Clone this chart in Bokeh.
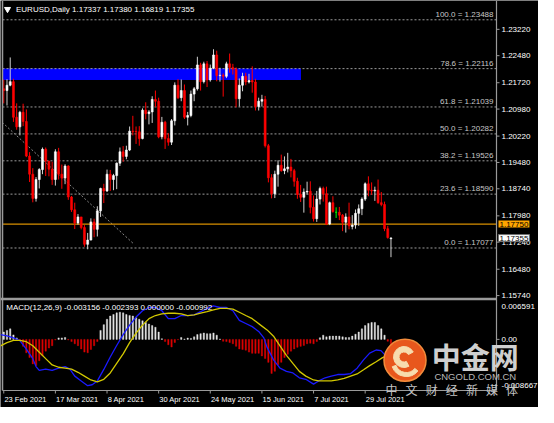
import numpy as np
from bokeh.plotting import figure
from bokeh.models import Range1d, Label, ColumnDataSource
from bokeh.core.properties import value
from bokeh.embed import file_html
from bokeh.resources import INLINE

# ---------------- data ----------------
symbol = "EURUSD,Daily"
open_p = [1.2155, 1.2150, 1.2165, 1.2175, 1.2075, 1.2048, 1.2089, 1.2063, 1.1966, 1.1915,
          1.1847, 1.1900, 1.1928, 1.1985, 1.1952, 1.1929, 1.1900, 1.1978, 1.1915, 1.1904,
          1.1938, 1.1851, 1.1815, 1.1778, 1.1795, 1.1765, 1.1718, 1.1730, 1.1781, 1.1760,
          1.1812, 1.1875, 1.1868, 1.1915, 1.1900, 1.1911, 1.1946, 1.1978, 1.1965, 1.1983,
          1.2036, 1.2035, 1.2034, 1.2015, 1.2095, 1.2085, 1.2090, 1.2125, 1.2120, 1.2020,
          1.2061, 1.2015, 1.2005, 1.2065, 1.2165, 1.2130, 1.2150, 1.2075, 1.2080, 1.2140,
          1.2155, 1.2222, 1.2175, 1.2225, 1.2180, 1.2213, 1.2250, 1.2192, 1.2193, 1.2190,
          1.2225, 1.2215, 1.2210, 1.2127, 1.2165, 1.2190, 1.2174, 1.2178, 1.2174, 1.2105,
          1.2120, 1.2125, 1.1995, 1.1905, 1.1860, 1.1915, 1.1940, 1.1925, 1.1930, 1.1935,
          1.1925, 1.1895, 1.1858, 1.1850, 1.1865, 1.1867, 1.1822, 1.1790, 1.1845, 1.1875,
          1.1860, 1.1775, 1.1835, 1.1808, 1.1808, 1.1800, 1.1780, 1.1795, 1.1768, 1.1772,
          1.1805, 1.1818, 1.1845, 1.1888, 1.1870, 1.1868, 1.1870, 1.1835, 1.1830, 1.1762,
          1.17337]
high_p = [1.2181, 1.2182, 1.2243, 1.2183, 1.2114, 1.2093, 1.2113, 1.2097, 1.1977, 1.1932,
          1.1907, 1.1932, 1.1990, 1.1990, 1.1952, 1.1950, 1.1985, 1.1989, 1.1942, 1.1943,
          1.1940, 1.1854, 1.1835, 1.1803, 1.1795, 1.1772, 1.1750, 1.1791, 1.1790, 1.1825,
          1.1877, 1.1888, 1.1928, 1.1927, 1.1916, 1.1948, 1.1990, 1.1994, 1.1995, 1.2049,
          1.2079, 1.2049, 1.2050, 1.2100, 1.2117, 1.2095, 1.2134, 1.2150, 1.2130, 1.2076,
          1.2065, 1.2030, 1.2070, 1.2173, 1.2182, 1.2181, 1.2167, 1.2090, 1.2150, 1.2160,
          1.2245, 1.2228, 1.2231, 1.2233, 1.2223, 1.2266, 1.2262, 1.2214, 1.2198, 1.2231,
          1.2254, 1.2225, 1.2215, 1.2184, 1.2200, 1.2200, 1.2197, 1.2218, 1.2183, 1.2130,
          1.2138, 1.2135, 1.2000, 1.1915, 1.1925, 1.1954, 1.1970, 1.1965, 1.1975, 1.1958,
          1.1930, 1.1905, 1.1885, 1.1875, 1.1894, 1.1895, 1.1855, 1.1868, 1.1880, 1.1880,
          1.1880, 1.1838, 1.1853, 1.1822, 1.1823, 1.1803, 1.1805, 1.1835, 1.1800, 1.1816,
          1.1830, 1.1850, 1.1892, 1.1909, 1.1892, 1.1880, 1.1900, 1.1865, 1.1838, 1.1770,
          1.17380]
low_p = [1.2114, 1.2108, 1.2162, 1.2062, 1.2040, 1.2024, 1.2050, 1.1963, 1.1893, 1.1836,
         1.1838, 1.1875, 1.1915, 1.1910, 1.1909, 1.1885, 1.1883, 1.1900, 1.1874, 1.1887,
         1.1843, 1.1809, 1.1761, 1.1773, 1.1760, 1.1711, 1.1704, 1.1729, 1.1738, 1.1740,
         1.1795, 1.1834, 1.1865, 1.1868, 1.1870, 1.1873, 1.1938, 1.1950, 1.1957, 1.1980,
         1.2024, 1.2000, 1.1995, 1.2013, 1.2069, 1.2055, 1.2059, 1.2104, 1.2016, 1.2013,
         1.1986, 1.1995, 1.1997, 1.2052, 1.2126, 1.2120, 1.2070, 1.2052, 1.2075, 1.2120,
         1.2150, 1.2150, 1.2170, 1.2160, 1.2175, 1.2210, 1.2176, 1.2175, 1.2133, 1.2185,
         1.2200, 1.2195, 1.2103, 1.2105, 1.2148, 1.2165, 1.2170, 1.2144, 1.2094, 1.2094,
         1.2105, 1.1990, 1.1892, 1.1847, 1.1848, 1.1880, 1.1922, 1.1915, 1.1920, 1.1906,
         1.1880, 1.1846, 1.1837, 1.1807, 1.1858, 1.1805, 1.1782, 1.1781, 1.1830, 1.1838,
         1.1772, 1.1772, 1.1807, 1.1792, 1.1786, 1.1755, 1.1751, 1.1760, 1.1760, 1.1762,
         1.1770, 1.1800, 1.1840, 1.1853, 1.1857, 1.1840, 1.1832, 1.1825, 1.1755, 1.1734,
         1.16819]
close_p = [1.2150, 1.2165, 1.2175, 1.2075, 1.2048, 1.2089, 1.2063, 1.1966, 1.1915, 1.1847,
           1.1900, 1.1928, 1.1985, 1.1952, 1.1929, 1.1900, 1.1978, 1.1915, 1.1904, 1.1938,
           1.1851, 1.1815, 1.1778, 1.1795, 1.1765, 1.1718, 1.1730, 1.1781, 1.1760, 1.1812,
           1.1875, 1.1868, 1.1915, 1.1900, 1.1911, 1.1946, 1.1978, 1.1965, 1.1983, 1.2036,
           1.2035, 1.2034, 1.2015, 1.2095, 1.2085, 1.2090, 1.2125, 1.2120, 1.2020, 1.2061,
           1.2015, 1.2005, 1.2065, 1.2165, 1.2130, 1.2150, 1.2075, 1.2080, 1.2140, 1.2155,
           1.2222, 1.2175, 1.2225, 1.2180, 1.2213, 1.2250, 1.2192, 1.2193, 1.2190, 1.2225,
           1.2215, 1.2210, 1.2127, 1.2165, 1.2190, 1.2174, 1.2178, 1.2174, 1.2105, 1.2120,
           1.2125, 1.1995, 1.1905, 1.1860, 1.1915, 1.1940, 1.1925, 1.1930, 1.1935, 1.1925,
           1.1895, 1.1858, 1.1850, 1.1865, 1.1867, 1.1822, 1.1790, 1.1845, 1.1875, 1.1860,
           1.1775, 1.1835, 1.1810, 1.1808, 1.1800, 1.1780, 1.1795, 1.1770, 1.1772, 1.1805,
           1.1818, 1.1845, 1.1888, 1.1870, 1.1868, 1.1870, 1.1835, 1.1830, 1.1762, 1.1737,
           1.17355]

date_labels = ["23 Feb 2021", "17 Mar 2021", "8 Apr 2021", "30 Apr 2021",
               "24 May 2021", "15 Jun 2021", "7 Jul 2021", "29 Jul 2021"]
date_label_bars = [0, 16, 32, 48, 64, 80, 96, 112]

price_ticks = [1.15740, 1.16480, 1.17240, 1.17980, 1.18740, 1.19480,
               1.20220, 1.20980, 1.21720, 1.22480, 1.23220]

fib_pct = ["100.0", "78.6", "61.8", "50.0", "38.2", "23.6", "0.0"]
fib_price = [1.23488, 1.22116, 1.21039, 1.20282, 1.19526, 1.18590, 1.17077]

hline_price = 1.17750
zone_top, zone_bottom, zone_end_bar = 1.2212, 1.2180, 92.1
trend_bars = [-0.5, 40.3]
trend_prices = [1.20609, 1.17190]

macd_title = "MACD(12,26,9) -0.003156 -0.002393 0.000000 -0.000992"
hist = [0.00125, 0.001526, 0.001786, 0.000763, 0.00025, -0.000211, -0.001185, -0.002272,
        -0.003084, -0.004155, -0.004431, -0.00362, -0.002808, -0.001997, -0.001461, -0.001071,
        -0.0001, 0.00025, 0.00025, 0.000325, -0.0001, -0.000373, -0.000747, -0.001071,
        -0.001623, -0.002159, -0.002272, -0.001721, -0.001071, -0.000373, 0.001526, 0.0025,
        0.003409, 0.003961, 0.00422, 0.004496, 0.00461, 0.004496, 0.00422, 0.004058,
        0.003961, 0.003685, 0.003409, 0.003149, 0.002873, 0.002597, 0.002337, 0.002061,
        0.00125, 0.0001, -0.000373, -0.000909, -0.001299, -0.000536, -0.00005, 0.000325,
        0.00005, 0.000227, 0.000162, 0.000438, 0.000812, 0.000974, 0.001088, 0.000974,
        0.000974, 0.001088, 0.000714, 0.00005, -0.000325, -0.000373, -0.000536, -0.000747,
        -0.001185, -0.001623, -0.001721, -0.001834, -0.002159, -0.00237, -0.00237, -0.00237,
        -0.002808, -0.003246, -0.003896, -0.005779, -0.005405, -0.004318, -0.003896, -0.003084,
        -0.002532, -0.001997, -0.001623, -0.001347, -0.001185, -0.001023, -0.000747, -0.000649,
        -0.000747, -0.000373, 0.000276, 0.000714, 0.000438, 0.000552, 0.000552, 0.000552,
        0.000552, 0.000438, 0.000325, 0.000325, 0.000552, 0.000877, 0.00125, 0.001786,
        0.002337, 0.002711, 0.002873, 0.002873, 0.002337, 0.001786, 0.000714, -0.000325,
        -0.000992]
macd_bars = [-1, 1, 3, 5, 7, 9, 10, 11, 13, 15, 17, 19, 20.5, 22, 24, 26, 27.4, 29, 31, 33,
             35, 37, 39, 41, 43, 45, 47, 49, 51, 53, 55, 57, 59, 61, 63, 65, 67, 69, 71, 73,
             75, 77, 79, 80.6, 81.6, 83.6, 85.6, 87.6, 89.6, 91.6, 93.6, 96, 97.6, 99.6,
             101.5, 103.5, 105.5, 107.5, 109.5, 111.5, 113.4, 115.4, 116.9, 117.9, 119, 120]
macd_main = [0.000795, 0.000584, 0.00026, -0.000227, -0.001639, -0.003263, -0.00461, -0.005259,
             -0.005048, -0.005259, -0.004886, -0.00461, -0.005048, -0.006233, -0.007045,
             -0.007856, -0.007694, -0.007045, -0.005097, -0.002987, -0.001039, 0.000795,
             0.002419, 0.003782, 0.004853, 0.005405, 0.005405, 0.004853, 0.003506, 0.003506,
             0.004042, 0.004042, 0.004155, 0.004691, 0.005243, 0.005665, 0.005405, 0.005405,
             0.004853, 0.00323, 0.002695, 0.002159, 0.001347, 0.00026, -0.001363, -0.003474,
             -0.004886, -0.005421, -0.005697, -0.006509, -0.006769, -0.00758, -0.007045,
             -0.006509, -0.006233, -0.005957, -0.005957, -0.005795, -0.004886, -0.003474,
             -0.002337, -0.001802, -0.001899, -0.0025, -0.0029, -0.003156]
signal_bars = [-1, 1, 3, 5, 7, 9, 11, 13, 15, 17, 19, 21, 23, 25, 27, 29, 31, 33, 35, 37,
               39, 41, 43, 45, 47, 49, 51, 53, 55, 57, 59, 61, 63, 65, 67, 69, 71, 73, 75, 77,
               79.6, 81.6, 83.6, 85.6, 87.6, 89.6, 91.6, 93.6, 96, 97.6, 99.6, 101.5, 103.5,
               105.5, 107.5, 109.5, 111.5, 113.4, 115.4, 117.4, 119, 120]
macd_signal = [-0.001088, -0.000552, -0.000179, -0.000179, -0.00039, -0.001088, -0.002175,
               -0.003263, -0.004334, -0.004724, -0.004886, -0.005048, -0.005584, -0.006233,
               -0.006882, -0.007207, -0.006769, -0.005697, -0.004074, -0.002451, -0.000552,
               0.001071, 0.002419, 0.003506, 0.004042, 0.004318, 0.004431, 0.004431, 0.004318,
               0.004042, 0.004155, 0.004431, 0.004691, 0.005016, 0.005243, 0.005243, 0.005129,
               0.004594, 0.004042, 0.003506, 0.002419, 0.001607, 0.000536, -0.001088,
               -0.002711, -0.004074, -0.005421, -0.006233, -0.006882, -0.007045, -0.007045,
               -0.007045, -0.006882, -0.006606, -0.006233, -0.00586, -0.005146, -0.004448,
               -0.003798, -0.0031, -0.0027, -0.002393]
macd_max, macd_min = 0.006591, -0.008667

# ---------------- layout (pixels inside the figure) ----------------
W, H = 538, 407
PLOT_L, PLOT_R = 2, 496          # chart area left edge / right axis line
MAIN_T, MAIN_B = 0, 297          # main price panel
MACD_T, MACD_B = 300, 390        # MACD panel
BAR_L, BAR_R = -0.39, 152.7      # bar index shown at PLOT_L / PLOT_R
PRICE_T, PRICE_B = 1.2403, 1.15686

kx = (PLOT_R - PLOT_L) / (BAR_R - BAR_L)
x_start = BAR_L - PLOT_L / kx
x_end = x_start + W / kx
pp = (PRICE_T - PRICE_B) / (MAIN_B - MAIN_T)
mp = (macd_max - macd_min) / (MACD_B - MACD_T)


def bx(px):
    return x_start + px / kx


def py(px):
    return PRICE_T - (px - MAIN_T) * pp


def my(px):
    return macd_max - (px - MACD_T) * mp


FONT = "Liberation Sans"
BG = "#000000"
FRAME_C = "#9a9a9a"
TXT = "#ffffff"

p = figure(width=W, height=H, x_range=Range1d(x_start, x_end),
           y_range=Range1d(py(H), py(0)), x_axis_location=None, y_axis_location=None,
           output_backend="svg", toolbar_location=None, min_border=0,
           min_border_left=0, min_border_right=0, min_border_top=0, min_border_bottom=0,
           background_fill_color=BG, border_fill_color=BG, outline_line_color=None)
p.grid.visible = False
p.extra_y_ranges = {"macd": Range1d(my(H), my(0))}

o = np.array(open_p); h = np.array(high_p); l = np.array(low_p); c = np.array(close_p)
bars = np.arange(len(c))
body_col = np.where(c > o, "#ffffff", np.where(c < o, "#ff0000", "#00ff00")).tolist()
wick_col = np.where(c > o, "#d0d0d0", np.where(c < o, "#ff0000", "#00ff00")).tolist()
src = ColumnDataSource(dict(x=bars, top=np.maximum(o, c), bottom=np.minimum(o, c),
                            high=h, low=l, body=body_col, wick=wick_col))

# ---- main panel ----
p.quad(left=[BAR_L], right=[zone_end_bar], top=[zone_top], bottom=[zone_bottom],
       fill_color="#0000ff", line_color=None)

n_f = len(fib_price)
p.segment(x0=[BAR_L] * n_f, y0=fib_price, x1=[BAR_R] * n_f, y1=fib_price,
          line_color="#9c9c9c", line_dash="2 2", line_width=1)
p.text(x=[bx(493)] * n_f, y=[v + 1 * pp for v in fib_price],
       text=[f"{a} = {b:.5f}" for a, b in zip(fib_pct, fib_price)],
       text_align="right", text_baseline="bottom", text_font=value(FONT),
       text_font_size="8px", text_color="#c8c8c8")

p.line(trend_bars, trend_prices, line_color="#8a8a8a", line_dash="2 2", line_width=1)
p.segment(x0=[BAR_L], y0=[hline_price], x1=[BAR_R], y1=[hline_price],
          line_color="#d88f00", line_width=1.2)

p.segment(x0="x", y0="low", x1="x", y1="high", line_color="wick", line_width=1, source=src)
p.vbar(x="x", width=0.6, top="top", bottom="bottom", fill_color="body",
       line_color="body", line_width=0.6, source=src)

# title
p.scatter([bx(7)], [py(8.7)], marker="inverted_triangle", size=6, color=TXT)
p.text(x=[bx(15.5)], y=[py(8.7)],
       text=[f"{symbol}  {o[-1]:.5f} {h[-1]:.5f} {l[-1]:.5f} {c[-1]:.5f}"],
       text_align="left", text_baseline="middle", text_font=value(FONT),
       text_font_size="8px", text_color=TXT)

# ---- frame lines ----
p.segment(x0=[bx(PLOT_L)], y0=[py(0)], x1=[bx(PLOT_L)], y1=[py(MACD_B)],
          line_color=FRAME_C, line_width=1.5)
p.segment(x0=[BAR_R], y0=[py(0)], x1=[BAR_R], y1=[py(MACD_B)],
          line_color=FRAME_C, line_width=1.2)
p.segment(x0=[bx(0)], y0=[py(MAIN_B + 1.5)], x1=[BAR_R], y1=[py(MAIN_B + 1.5)],
          line_color=FRAME_C, line_width=2.5)
p.segment(x0=[bx(PLOT_L)], y0=[py(MACD_B)], x1=[BAR_R], y1=[py(MACD_B)],
          line_color=FRAME_C, line_width=1.2)

# ---- right price axis ----
n_t = len(price_ticks)
p.segment(x0=[BAR_R] * n_t, y0=price_ticks, x1=[bx(PLOT_R + 3)] * n_t, y1=price_ticks,
          line_color=FRAME_C, line_width=1)
p.text(x=[bx(PLOT_R + 5)] * n_t, y=price_ticks, text=[f"{t:.5f}" for t in price_ticks],
       text_align="left", text_baseline="middle", text_font=value(FONT),
       text_font_size="8px", text_color=TXT)

p.add_layout(Label(x=bx(PLOT_R + 2), y=hline_price, text=f"{hline_price:.5f}",
                   text_baseline="middle", text_align="left", text_font=FONT,
                   text_font_size="8px", text_color="#000000",
                   background_fill_color="#ffa500", padding=1))
p.add_layout(Label(x=bx(PLOT_R + 2), y=c[-1], text=f"{c[-1]:.5f}",
                   text_baseline="middle", text_align="left", text_font=FONT,
                   text_font_size="8px", text_color="#000000",
                   background_fill_color="#ffffff", border_line_color="#707070", padding=1))

# ---- MACD panel ----
hv = np.array(hist)
hist_col = np.where(hv >= 0, "#e6e6e6", "#dd0000").tolist()
p.vbar(x=bars, width=0.42, top=hv, bottom=0, fill_color=hist_col, line_color=hist_col,
       line_width=0.4, y_range_name="macd")
p.line(macd_bars, macd_main, line_color="#1a1aff", line_width=1.3, y_range_name="macd")
p.line(signal_bars, macd_signal, line_color="#d2c800", line_width=1.3, y_range_name="macd")

p.text(x=[bx(5.8)], y=[my(306.7)], text=[macd_title], text_align="left",
       text_baseline="middle", text_font=value(FONT), text_font_size="8px",
       text_color=TXT, y_range_name="macd")

macd_lbl_y = [my(MACD_T + 6), 0.0, my(MACD_B - 5)]
macd_lbl_t = [f"{macd_max:.6f}", "0.00", f"{macd_min:.6f}"]
p.segment(x0=[BAR_R], y0=[0.0], x1=[bx(PLOT_R + 3)], y1=[0.0], line_color=FRAME_C,
          line_width=1, y_range_name="macd")
p.text(x=[bx(PLOT_R + 5)] * 3, y=macd_lbl_y, text=macd_lbl_t, text_align="left",
       text_baseline="middle", text_font=value(FONT), text_font_size="8px",
       text_color=TXT, y_range_name="macd")

# ---- x axis (dates) ----
n_d = len(date_label_bars)
p.segment(x0=date_label_bars, y0=[py(MACD_B)] * n_d, x1=date_label_bars,
          y1=[py(MACD_B + 3)] * n_d, line_color=FRAME_C, line_width=1)
p.text(x=[b + 0.2 for b in date_label_bars], y=[py(MACD_B + 9)] * n_d, text=date_labels,
       text_align="left", text_baseline="middle", text_font=value(FONT),
       text_font_size="7.5px", text_color=TXT)

# ---- watermark ----
cx, cy = bx(404.5), my(359.8)
p.scatter([cx], [cy], marker="circle", size=42, fill_color="#e8571d",
          line_color="#f28c3c", line_width=1.5, y_range_name="macd")
p.annular_wedge(x=[cx - 0.3], y=[my(356.5)], inner_radius=5, outer_radius=10.5,
                inner_radius_units="screen", outer_radius_units="screen",
                start_angle=0.5, end_angle=5.2, color="#f7dcae", y_range_name="macd")
p.annular_wedge(x=[cx + 0.4], y=[my(361)], inner_radius=11, outer_radius=15,
                inner_radius_units="screen", outer_radius_units="screen",
                start_angle=3.5, end_angle=5.6, color="#f7dcae", y_range_name="macd")
p.add_layout(Label(x=bx(474.8), y=my(355.5), text="中金网", text_align="center",
                   text_baseline="middle", text_font="Noto Sans CJK SC",
                   text_font_style="bold", text_font_size="29px", text_color="#cfcfcf",
                   y_range_name="macd"))
p.add_layout(Label(x=bx(474.8), y=my(376.1), text="CNGOLD.COM.CN", text_align="center",
                   text_baseline="middle", text_font=FONT, text_font_size="9.5px",
                   text_color="#b8b8b8", y_range_name="macd"))
for i, ch in enumerate("中文财经新媒体"):
    p.add_layout(Label(x=bx(391 + i * 20.1), y=my(389), text=ch, text_align="center",
                       text_baseline="middle", text_font="Noto Sans CJK SC",
                       text_font_size="12px", text_color="#c4c4c4", y_range_name="macd"))

open("out.html", "w").write(file_html(p, INLINE))
